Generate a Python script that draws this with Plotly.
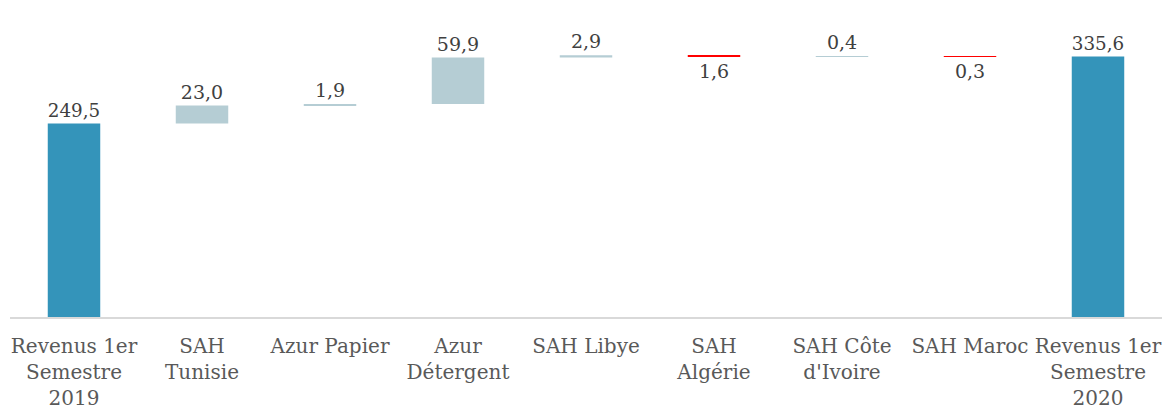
import plotly.graph_objects as go

categories = [
    "Revenus 1er<br>Semestre<br>2019",
    "SAH<br>Tunisie",
    "Azur Papier",
    "Azur<br>Détergent",
    "SAH Libye",
    "SAH<br>Algérie",
    "SAH Côte<br>d'Ivoire",
    "SAH Maroc",
    "Revenus 1er<br>Semestre<br>2020",
]
values = [249.5, 23.0, 1.9, 59.9, 2.9, -1.6, 0.4, -0.3, 335.6]
measures = ["absolute", "relative", "relative", "relative", "relative",
            "relative", "relative", "relative", "total"]

labels = [f"{abs(v):.1f}".replace(".", ",") for v in values]

fig = go.Figure(go.Waterfall(
    x=categories,
    y=values,
    measure=measures,
    text=labels,
    textposition="outside",
    textfont=dict(family="DejaVu Serif", size=19, color="#404040"),
    increasing=dict(marker=dict(color="#B5CDD4")),
    decreasing=dict(marker=dict(color="#FF0000")),
    totals=dict(marker=dict(color="#3494BA")),
    connector=dict(visible=False),
    cliponaxis=False,
))

fig.update_layout(
    width=1164, height=412,
    margin=dict(l=10, r=2, t=10, b=93),
    paper_bgcolor="white", plot_bgcolor="white",
    showlegend=False,
    waterfallgap=0.59,
    font=dict(family="DejaVu Serif", size=20, color="#595959"),
    xaxis=dict(showline=True, linecolor="#D9D9D9", linewidth=1.5,
               ticks="", showgrid=False, ticklabelstandoff=10,
               tickfont=dict(size=20, color="#595959")),
    yaxis=dict(range=[0, 395.6], visible=False, showgrid=False),
)

fig.write_html("out.html",
               config={"displayModeBar": False},
               post_script="document.body.style.margin='0';document.body.style.overflow='hidden';")
